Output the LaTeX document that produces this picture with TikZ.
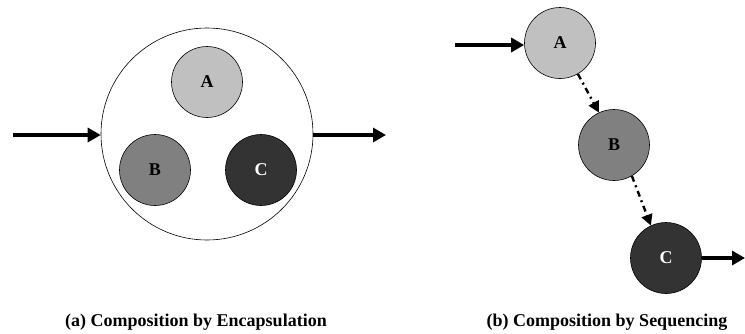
\documentclass[tikz,border=0pt]{standalone}
\usepackage{fontspec}
\setmainfont{Liberation Serif}[BoldFont={Liberation Serif Bold}]
\usetikzlibrary{arrows.meta}
\definecolor{cA}{RGB}{192,192,192}
\definecolor{cB}{RGB}{128,128,128}
\definecolor{cC}{RGB}{51,51,51}
\begin{document}
\begin{tikzpicture}[x=1pt,y=-1pt,
  ball/.style={circle,draw=black,line width=0.6pt,minimum size=71pt,inner sep=0pt,font=\fontsize{18}{18}\selectfont\bfseries},
  inarrow/.style={line width=4.5pt,-{Triangle[length=13pt,width=14pt]}},
  seqarrow/.style={line width=2.4pt,dash pattern=on 6pt off 4pt on 2pt off 4pt,-{Triangle[length=11pt,width=11pt]}},
  caption/.style={font=\fontsize{18}{18}\selectfont\bfseries}]
\useasboundingbox (0,0) rectangle (745,333);
% (a)
\node[circle,draw=black,line width=0.6pt,minimum size=212pt,inner sep=0pt] (big) at (207,134) {};
\node[ball,fill=cA] (a1) at (207,82) {A};
\node[ball,fill=cB] (b1) at (155,170) {B};
\node[ball,fill=cC,text=white] (c1) at (261,170) {C};
\coordinate (in1) at (13,135);
\coordinate (out1) at (386,135);
\draw[inarrow] (in1) -- (big.west|-in1);
\draw[inarrow] (big.east|-out1) -- (out1);
\node[caption] (cap1) at (196,322) {(a) Composition by Encapsulation};
% (b)
\node[ball,fill=cA] (a2) at (560,43) {A};
\node[ball,fill=cB] (b2) at (614,145) {B};
\node[ball,fill=cC,text=white] (c2) at (666,258) {C};
\coordinate (in2) at (455,45);
\coordinate (out2) at (745,258);
\draw[inarrow] (in2) -- (a2.west|-in2);
\draw[inarrow] (c2.east) -- (out2);
\draw[seqarrow] (a2.-60) -- (b2.115);
\draw[seqarrow] (b2.-60) -- (c2.115);
\node[caption] (cap2) at (607,322) {(b) Composition by Sequencing};
\end{tikzpicture}
\end{document}
